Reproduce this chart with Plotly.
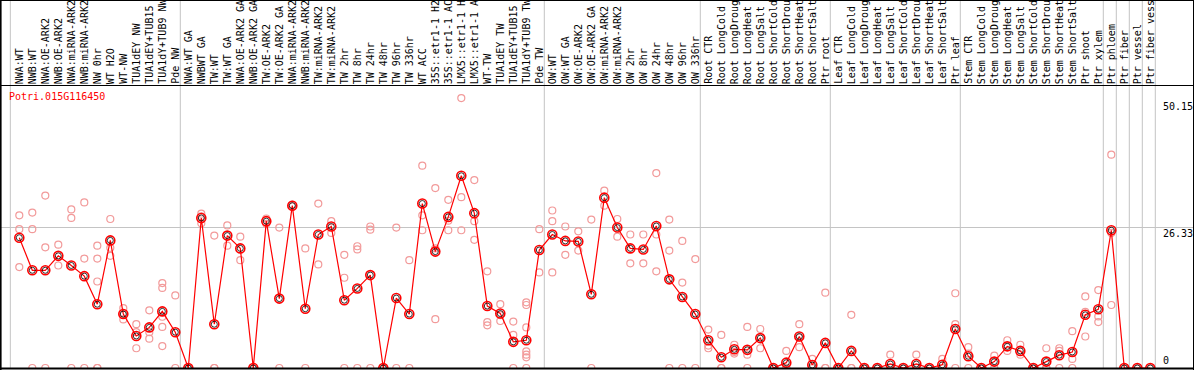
import plotly.graph_objects as go

categories = [
    "NWA:WT", "NWB:WT", "NWA:OE-ARK2", "NWB:OE-ARK2", "NWA:miRNA-ARK2", "NWB:miRNA-ARK2",
    "NW 0hr", "WT H2O", "WT-NW", "TUA1dEY NW", "TUA1dEY+TUB15 NW", "TUA1dY+TUB9 NW", "Pde NW",
    "NWA:WT GA", "NWBWT GA", "TW:WT", "TW:WT GA", "NWA:OE-ARK2 GA", "NWB:OE-ARK2 GA",
    "TW:OE-ARK2", "TW:OE-ARK2 GA", "NWA:miRNA-ARK2", "NWB:miRNA-ARK2", "TW:miRNA-ARK2",
    "TW:miRNA-ARK2", "TW 2hr", "TW 8hr", "TW 24hr", "TW 48hr", "TW 96hr", "TW 336hr",
    "WT ACC", "35S::etr1-1 H2O", "35S::etr1-1 ACC", "LMX5::etr1-1 H2O", "LMX5::etr1-1 ACC",
    "WT-TW", "TUA1dEY TW", "TUA1dEY+TUB15 TW", "TUA1dY+TUB9 TW", "Pde TW",
    "OW:WT", "OW:WT GA", "OW:OE-ARK2", "OW:OE-ARK2 GA", "OW:miRNA-ARK2", "OW:miRNA-ARK2",
    "OW 2hr", "OW 8hr", "OW 24hr", "OW 48hr", "OW 96hr", "OW 336hr",
    "Root CTR", "Root LongCold", "Root LongDrought", "Root LongHeat", "Root LongSalt",
    "Root ShortCold", "Root ShortDrought", "Root ShortHeat", "Root ShortSalt", "Ptr root",
    "Leaf CTR", "Leaf LongCold", "Leaf LongDrought", "Leaf LongHeat", "Leaf LongSalt",
    "Leaf ShortCold", "Leaf ShortDrought", "Leaf ShortHeat", "Leaf ShortSalt", "Ptr leaf",
    "Stem CTR", "Stem LongCold", "Stem LongDrought", "Stem LongHeat", "Stem LongSalt",
    "Stem ShortCold", "Stem ShortDrought", "Stem ShortHeat", "Stem ShortSalt", "Ptr shoot",
    "Ptr xylem", "Ptr phloem", "Ptr fiber", "Ptr vessel", "Ptr fiber vessel",
]

means = [
    24.4, 18.3, 18.3, 21.0, 19.2, 17.2, 11.95, 23.9, 10.1, 6.0, 7.6, 10.6, 6.7,
    0.0, 28.1, 8.2, 24.8, 22.4, 0.0, 27.5, 13.0, 30.4, 11.1, 25.0, 26.5, 12.7, 14.9,
    17.4, 0.0, 13.1, 10.1, 30.8, 21.8, 28.3, 36.0, 29.0, 11.6, 10.2, 4.9, 5.2, 22.1,
    25.0, 23.8, 23.7, 13.8, 31.9, 26.3, 22.4, 22.2, 26.6, 16.6, 13.3, 10.1,
    5.2, 2.0, 3.5, 3.4, 5.6, 0.0, 1.0, 5.9, 0.56, 4.7,
    0.0, 3.2, 0.0, 0.0, 0.75, 0.0, 0.75, 0.0, 0.6, 7.3,
    2.2, 0.0, 1.2, 4.05, 3.2, 0.0, 1.2, 2.4, 3.0, 9.96,
    11.0, 25.8, 0.0, 0.0, 0.0,
]

replicates = [
    [28.6, 26.0, 18.9], [29.1, 26.0, 0], [32.3, 22.6, 0], [23.1, 19.2], [29.7, 28.1, 0],
    [31.0, 20.5, 0], [22.9, 20.5, 16.2, 0, 0], [27.9, 22.5, 21.0], [11.2, 10.1, 9.1],
    [8.2, 6.7, 3.7], [10.8, 6.7, 5.5], [15.9, 15.0, 9.6, 7.7, 4.1], [13.6, 0],
    [0, 0, 0], [28.9, 28.4, 27.1], [24.8, 0, 0], [26.7, 22.9], [24.6, 20.2], [0, 0],
    [28.0, 27.0], [26.3, 0], [30.6, 30.3], [22.4, 0], [30.8, 19.4], [27.5, 25.3],
    [21.2, 16.9, 0], [22.8, 22.2, 0], [26.5, 25.9, 0], [0, 0], [26.3, 0], [20.2, 0],
    [37.9, 28.6, 25.8], [33.7, 22.4, 9.15], [31.5, 27.6, 25.8], [50.55, 32.0, 25.8],
    [35.2, 27.5, 24.0], [18.1, 8.6, 8.0], [11.95, 9.9, 8.8], [8.7, 6.2, 0],
    [12.3, 11.8, 7.6, 3.1, 2.5, 2.0, 0], [26.0, 17.9],
    [29.5, 27.5, 17.9], [26.5, 21.2], [25.6, 22.0], [27.8, 0], [33.2, 30.4], [27.9, 24.6],
    [25.0, 19.6], [25.0, 19.6], [36.5, 25.0, 18.1], [27.8, 22.0, 0], [23.8, 16.0, 0],
    [20.4, 0],
    [7.2, 4.2, 3.7], [6.2, 0, 0], [4.35, 3.0, 2.7], [7.7, 2.5, 0], [7.3, 3.7], [0, 0],
    [3.2, 0, 0], [8.2, 5.7, 3.9], [1.7, 0, 0], [14.1, 0, 0],
    [0, 0], [9.96, 0, 0], [0, 0], [0, 0], [2.5, 0, 0], [0, 0], [2.5, 0, 0], [0, 0],
    [1.7, 0, 0], [14.0, 8.2, 0],
    [3.9, 2.7, 0], [0, 0], [2.3, 0], [5.2, 3.2], [4.35, 2.5], [0, 0], [3.7, 0, 0],
    [3.7, 3.2, 0], [6.9, 1.7, 0], [13.4, 10.5, 5.9],
    [14.6, 9.65, 8.6], [39.96, 25.3, 11.8], [0], [0], [0],
]

gene_name = "Potri.015G116450"
y_tick_values = [50.15, 26.33, 0]
y_tick_labels = ["50.15", "26.33", "0"]
group_ends = [12, 40, 52, 62, 72, 83, 84, 85, 86, 87]

W, H = 1194, 370
L, R, T, B = 1, 1, 85, 2
PW, PH = W - L - R, H - T - B
MONO = "DejaVu Sans Mono"

x_idx = list(range(len(categories)))
rep_x = [i for i, reps in enumerate(replicates) for _ in reps]
rep_y = [v for reps in replicates for v in reps]

fig = go.Figure()
fig.add_trace(go.Scatter(
    x=rep_x, y=rep_y, mode="markers",
    marker=dict(symbol="circle-open", size=7, color="#f29a9a", line=dict(width=1.2, color="#f29a9a")),
    hoverinfo="skip", showlegend=False))
fig.add_trace(go.Scatter(
    x=x_idx, y=means, mode="lines",
    line=dict(color="#ff0000", width=1.2), showlegend=False))
fig.add_trace(go.Scatter(
    x=x_idx, y=means, mode="markers",
    marker=dict(symbol="circle-open", size=9, color="#ff0000", line=dict(width=1.6, color="#ff0000")),
    showlegend=False))
fig.add_trace(go.Scatter(
    x=x_idx, y=means, mode="markers",
    marker=dict(symbol="circle-open", size=6, color="#000000", line=dict(width=0.8, color="#000000")),
    showlegend=False))


def py(pix_y):
    return 1 - (pix_y - T) / PH


def px(pix_x):
    return (pix_x - L) / PW


shapes = []
break_positions = [-0.69] + [g + 0.385 for g in group_ends]
for xb in break_positions:
    shapes.append(dict(type="line", xref="x", yref="paper", x0=xb, x1=xb, y0=0, y1=py(0.5),
                       line=dict(color="#c4c4c4", width=1), layer="below"))
frame = dict(color="black", width=1)
shapes += [
    dict(type="line", xref="paper", yref="paper", x0=px(0), x1=px(W), y0=py(0.5), y1=py(0.5), line=frame),
    dict(type="line", xref="paper", yref="paper", x0=px(0), x1=px(W), y0=py(85.5), y1=py(85.5), line=frame),
    dict(type="line", xref="paper", yref="paper", x0=px(0), x1=px(W), y0=py(368.5), y1=py(368.5),
         line=dict(color="black", width=2)),
    dict(type="line", xref="paper", yref="paper", x0=px(0.8), x1=px(0.8), y0=py(370), y1=py(0),
         line=dict(color="black", width=1.6)),
    dict(type="line", xref="paper", yref="paper", x0=px(1193.5), x1=px(1193.5), y0=py(370), y1=py(0),
         line=frame),
]

annotations = []
for i, c in enumerate(categories):
    annotations.append(dict(x=i, y=1, xref="x", yref="paper", text=c, textangle=-90,
                            xanchor="center", yanchor="bottom", showarrow=False, yshift=-1,
                            font=dict(family=MONO, size=10, color="black")))
annotations.append(dict(x=px(7), y=py(97), xref="paper", yref="paper", text=gene_name,
                        xanchor="left", yanchor="middle", showarrow=False,
                        font=dict(family=MONO, size=10, color="#ff0000")))
for v, t in zip(y_tick_values, y_tick_labels):
    annotations.append(dict(x=px(1161), y=v, xref="paper", yref="y", text=t,
                            xanchor="left", yanchor="bottom" if v == 0 else "top",
                            yshift=0 if v == 0 else 1, showarrow=False,
                            font=dict(family=MONO, size=10, color="black")))

fig.update_layout(
    width=W, height=H, autosize=False,
    margin=dict(l=L, r=R, t=T, b=B, pad=0, autoexpand=False),
    paper_bgcolor="white", plot_bgcolor="white",
    xaxis=dict(range=[-18.3 / 13, -18.3 / 13 + PW / 13], showgrid=False, zeroline=False,
               showticklabels=False, ticks="", showline=False),
    yaxis=dict(range=[0, 53.0], tickvals=[26.33], showgrid=True, gridcolor="#c4c4c4", gridwidth=1,
               zeroline=False, showticklabels=False, ticks="", showline=False),
    shapes=shapes, annotations=annotations, showlegend=False,
)

fig.write_html(
    "out.html",
    config={"displayModeBar": False},
    post_script="document.body.style.margin='0';document.body.style.overflow='hidden';",
)
